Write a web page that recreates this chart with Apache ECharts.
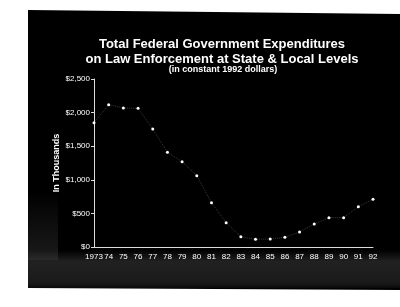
<!DOCTYPE html>
<html>
<head>
<meta charset="utf-8">
<script src="https://cdn.jsdelivr.net/npm/echarts@6/dist/echarts.min.js"></script>
<style>
  html, body { margin: 0; padding: 0; background: #fff; }
  #chart { width: 400px; height: 307px; }
</style>
</head>
<body>
<div id="chart"></div>
<script>
  // data (thousands of 1992 dollars)
  var years = ['1973', '74', '75', '76', '77', '78', '79', '80', '81', '82',
               '83', '84', '85', '86', '87', '88', '89', '90', '91', '92'];
  var spending = [1850, 2118, 2068, 2064, 1756, 1409, 1270, 1061, 659, 360,
                  153, 115, 119, 144, 223, 342, 436, 436, 600, 710];
  var yTicks = [0, 500, 1000, 1500, 2000, 2500];

  var myChart = echarts.init(document.getElementById('chart'));

  var option = {
    backgroundColor: '#fff',
    textStyle: { fontFamily: 'Liberation Sans' },
    graphic: [
      {
        type: 'polygon', z: -10, silent: true,
        shape: { points: [[28, 10], [400, 14], [400, 290], [28, 288]] },
        style: { fill: '#000' }
      },
      {
        // noisy scan band at bottom
        type: 'rect', z: -9, silent: true,
        shape: { x: 28, y: 250, width: 372, height: 38 },
        style: {
          fill: new echarts.graphic.LinearGradient(0, 0, 0, 1, [
            { offset: 0, color: 'rgba(60,60,60,0.0)' },
            { offset: 0.3, color: 'rgba(60,60,60,0.55)' },
            { offset: 0.8, color: 'rgba(45,45,45,0.6)' },
            { offset: 1, color: 'rgba(10,10,10,1)' }
          ])
        }
      },
      {
        type: 'rect', z: -9, silent: true,
        shape: { x: 28, y: 190, width: 30, height: 70 },
        style: {
          fill: new echarts.graphic.LinearGradient(0, 0, 0, 1, [
            { offset: 0, color: 'rgba(60,60,60,0)' },
            { offset: 1, color: 'rgba(60,60,60,0.45)' }
          ])
        }
      }
    ],
    title: [{
      text: 'Total Federal Government Expenditures\non Law Enforcement at State & Local Levels',
      left: 217, top: 32, textAlign: 'center',
      textStyle: { color: '#fff', fontSize: 13, fontWeight: 'bold', lineHeight: 15,
                   fontFamily: 'Liberation Sans' }
    }, {
      text: '(in constant 1992 dollars)',
      left: 218, top: 60, textAlign: 'center',
      textStyle: { color: '#fff', fontSize: 9, fontWeight: 'bold',
                   fontFamily: 'Liberation Sans' }
    }],
    grid: { left: 94, right: 27, top: 79, bottom: 60, containLabel: false },
    xAxis: {
      type: 'category',
      data: years,
      boundaryGap: false,
      axisLine: { lineStyle: { color: '#ddd', width: 1 } },
      axisTick: { show: false },
      axisLabel: { color: '#fff', fontSize: 8, margin: 6, interval: 0 },
      splitLine: { show: false }
    },
    yAxis: {
      type: 'value',
      min: 0, max: 2500, interval: 500,
      name: 'In Thousands',
      nameLocation: 'middle',
      nameGap: 33,
      nameMoveOverlap: false,
      nameRotate: 90,
      nameTextStyle: { color: '#fff', fontSize: 9, fontWeight: 'bold' },
      axisLine: { show: true, lineStyle: { color: '#ddd', width: 1 } },
      axisTick: { show: true, length: 3, lineStyle: { color: '#ddd' } },
      axisLabel: {
        color: '#fff', fontSize: 8, margin: 4,
        formatter: function (v) {
          return yTicks.indexOf(v) >= 0 ? '$' + v.toLocaleString('en-US') : '';
        }
      },
      splitLine: { show: false }
    },
    series: [{
      type: 'line',
      data: spending,
      symbol: 'circle',
      symbolSize: 3,
      itemStyle: { color: '#fff' },
      lineStyle: { color: '#3a3a3a', width: 1, type: 'dotted' },
      animation: false
    }]
  };

  myChart.setOption(option);
</script>
</body>
</html>
